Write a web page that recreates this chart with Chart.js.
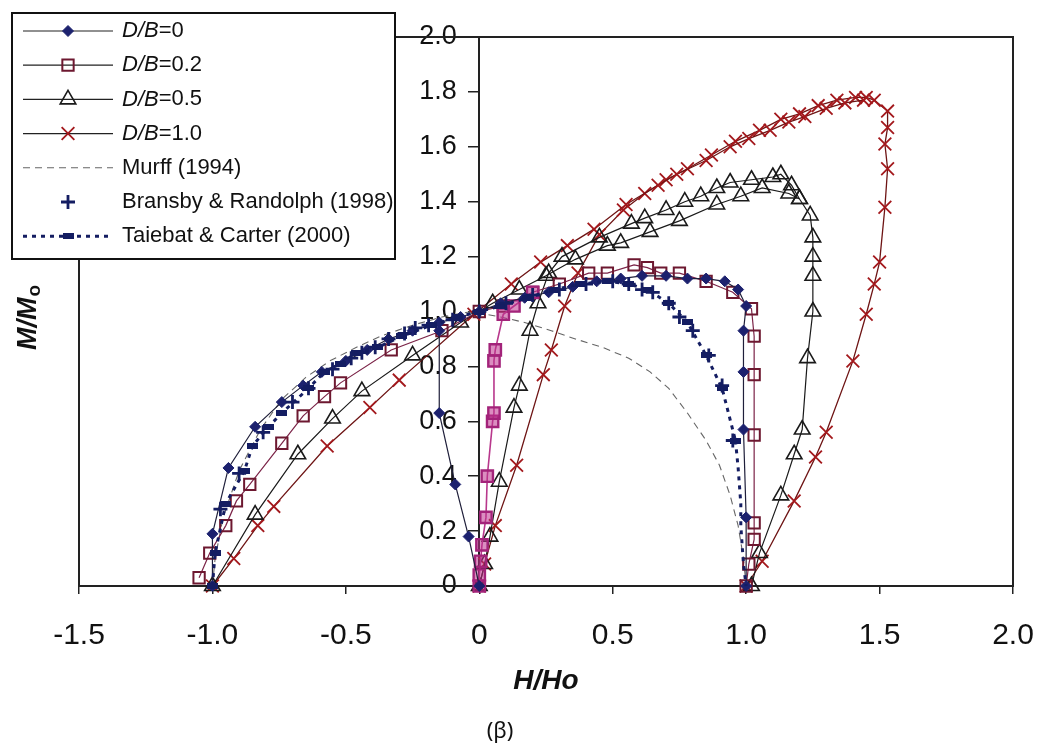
<!DOCTYPE html>
<html>
<head>
<meta charset="utf-8">
<title>M/Mo - H/Ho</title>
<script src="https://cdn.jsdelivr.net/npm/chart.js@4.4.0/dist/chart.umd.min.js"></script>
<style>
  html, body { margin: 0; padding: 0; background: #fff; }
  #wrap { position: relative; width: 1044px; height: 750px; }
</style>
</head>
<body>
<div id="wrap"><canvas id="envelope" width="1044" height="750"></canvas></div>
<script>
// tick labels as printed
const xTickLabels = ["-1.5", "-1.0", "-0.5", "0", "0.5", "1.0", "1.5", "2.0"];
const yTickLabels = ["0", "0.2", "0.4", "0.6", "0.8", "1.0", "1.2", "1.4", "1.6", "1.8", "2.0"];

// [H/Ho, M/Mo] pairs
const db0Main = [[-1.00, 0.00], [-1.00, 0.19], [-0.94, 0.43], [-0.84, 0.58], [-0.74, 0.67], [-0.66, 0.73],
  [-0.59, 0.78], [-0.50, 0.82], [-0.42, 0.86], [-0.34, 0.90], [-0.25, 0.93], [-0.15, 0.96], [-0.07, 0.98],
  [0.00, 1.00], [0.08, 1.03], [0.17, 1.05], [0.26, 1.07], [0.35, 1.09], [0.44, 1.11], [0.53, 1.12],
  [0.61, 1.13], [0.70, 1.13], [0.78, 1.12], [0.85, 1.12], [0.92, 1.11], [0.97, 1.08], [1.00, 1.02],
  [0.99, 0.93], [0.99, 0.78], [0.99, 0.57], [1.00, 0.25], [1.00, 0.00]];
const db0Swipe = [[0.00, 0.00], [-0.04, 0.18], [-0.09, 0.37], [-0.15, 0.63], [-0.15, 0.93]];

const db02Main = [[-1.05, 0.03], [-1.01, 0.12], [-0.95, 0.22], [-0.91, 0.31], [-0.86, 0.37], [-0.74, 0.52],
  [-0.66, 0.62], [-0.58, 0.69], [-0.52, 0.74], [-0.33, 0.86], [-0.14, 0.93], [0.00, 1.00], [0.09, 1.02],
  [0.20, 1.07], [0.30, 1.10], [0.41, 1.14], [0.48, 1.14], [0.58, 1.17], [0.63, 1.16], [0.68, 1.14],
  [0.75, 1.14], [0.85, 1.11], [0.95, 1.07], [1.02, 1.01], [1.03, 0.91], [1.03, 0.77], [1.03, 0.55],
  [1.03, 0.23], [1.03, 0.17], [1.01, 0.08], [1.00, 0.00]];
const db02Swipe = [[0.00, 0.00], [0.00, 0.04], [0.005, 0.09], [0.01, 0.15], [0.025, 0.25], [0.03, 0.40],
  [0.05, 0.60], [0.055, 0.63], [0.055, 0.82], [0.06, 0.86], [0.09, 0.99], [0.13, 1.02], [0.20, 1.07]];

const db05Main = [[-1.00, 0.00], [-0.84, 0.26], [-0.68, 0.48], [-0.55, 0.61], [-0.44, 0.71], [-0.25, 0.84],
  [-0.07, 0.96], [0.05, 1.03], [0.15, 1.08], [0.25, 1.13], [0.36, 1.19], [0.48, 1.24], [0.53, 1.25],
  [0.64, 1.29], [0.75, 1.33], [0.89, 1.39], [0.98, 1.42], [1.06, 1.45], [1.16, 1.43], [1.20, 1.41]];
const db05Swipe = [[0.00, 0.00], [0.02, 0.08], [0.04, 0.18], [0.075, 0.38], [0.13, 0.65], [0.15, 0.73],
  [0.19, 0.93], [0.22, 1.03], [0.26, 1.14], [0.31, 1.20], [0.45, 1.27], [0.57, 1.32], [0.62, 1.34],
  [0.70, 1.37], [0.77, 1.40], [0.83, 1.42], [0.89, 1.45], [0.94, 1.47], [1.02, 1.48], [1.10, 1.49],
  [1.13, 1.50], [1.17, 1.46], [1.20, 1.41], [1.24, 1.35], [1.25, 1.27], [1.25, 1.20], [1.25, 1.13],
  [1.25, 1.00], [1.23, 0.83], [1.21, 0.57], [1.18, 0.48], [1.13, 0.33], [1.05, 0.12], [1.02, 0.00]];

const db10Main = [[-1.00, 0.00], [-0.92, 0.10], [-0.83, 0.22], [-0.77, 0.29], [-0.57, 0.51], [-0.41, 0.65],
  [-0.30, 0.75], [-0.02, 0.99], [0.12, 1.10], [0.23, 1.18], [0.33, 1.24], [0.43, 1.30], [0.55, 1.39],
  [0.67, 1.46], [0.74, 1.50], [0.85, 1.55], [0.94, 1.60], [1.01, 1.63], [1.09, 1.66], [1.16, 1.69],
  [1.22, 1.71], [1.30, 1.74], [1.37, 1.76], [1.44, 1.77]];
const db10Swipe = [[0.00, 0.00], [0.02, 0.08], [0.06, 0.22], [0.14, 0.44], [0.24, 0.77], [0.27, 0.86],
  [0.32, 1.02], [0.37, 1.14], [0.45, 1.28], [0.54, 1.37], [0.62, 1.43], [0.70, 1.48], [0.78, 1.52],
  [0.87, 1.57], [0.96, 1.62], [1.05, 1.66], [1.13, 1.70], [1.20, 1.72], [1.27, 1.75], [1.34, 1.77],
  [1.41, 1.78], [1.45, 1.78], [1.48, 1.77], [1.53, 1.73], [1.53, 1.67], [1.52, 1.61], [1.53, 1.52],
  [1.52, 1.38], [1.50, 1.18], [1.48, 1.10], [1.45, 0.99], [1.40, 0.82], [1.30, 0.56], [1.26, 0.47],
  [1.18, 0.31], [1.06, 0.09], [1.00, 0.00]];

const murff = [[-1.00, 0.00], [-0.99, 0.10], [-0.96, 0.25], [-0.90, 0.42], [-0.82, 0.57], [-0.74, 0.68],
  [-0.65, 0.76], [-0.56, 0.82], [-0.46, 0.87], [-0.37, 0.91], [-0.25, 0.95], [-0.14, 0.98], [-0.03, 1.00],
  [0.08, 0.98], [0.17, 0.96], [0.27, 0.93], [0.36, 0.90], [0.46, 0.87], [0.56, 0.83], [0.64, 0.78],
  [0.71, 0.72], [0.78, 0.63], [0.85, 0.53], [0.90, 0.44], [0.94, 0.33], [0.97, 0.22], [0.99, 0.10],
  [1.00, 0.00]];

const bransby = [[-0.97, 0.28], [-0.90, 0.41], [-0.81, 0.56], [-0.70, 0.67], [-0.64, 0.72], [-0.55, 0.79],
  [-0.48, 0.83], [-0.44, 0.85], [-0.39, 0.87], [-0.34, 0.90], [-0.28, 0.92], [-0.24, 0.94], [-0.19, 0.95],
  [-0.10, 0.97], [0.00, 1.00], [0.10, 1.03], [0.20, 1.06], [0.30, 1.08], [0.40, 1.10], [0.50, 1.11],
  [0.56, 1.10], [0.61, 1.08], [0.65, 1.07], [0.71, 1.03], [0.75, 0.98], [0.80, 0.93], [0.86, 0.84],
  [0.91, 0.73], [0.95, 0.53]];

const taiebat = [[-1.00, 0.00], [-0.99, 0.12], [-0.95, 0.30], [-0.88, 0.42], [-0.85, 0.51], [-0.79, 0.58],
  [-0.74, 0.63], [-0.64, 0.72], [-0.58, 0.78], [-0.52, 0.81], [-0.46, 0.85], [-0.38, 0.87], [-0.29, 0.91],
  [-0.18, 0.95], [-0.08, 0.98], [0.00, 1.00], [0.08, 1.02], [0.18, 1.05], [0.28, 1.08], [0.38, 1.10],
  [0.48, 1.11], [0.56, 1.10], [0.63, 1.08], [0.71, 1.03], [0.78, 0.96], [0.85, 0.84], [0.91, 0.72],
  [0.96, 0.53]];
const taiebatTail = [[0.96, 0.53], [0.97, 0.43], [0.98, 0.30], [0.98, 0.22], [0.99, 0.08], [1.00, 0.00]];

const FONT = '"Liberation Sans", Arial, sans-serif';
const NAVY = '#141d62';

// small bar used as the Taiebat & Carter marker
const barMark = document.createElement('canvas');
barMark.width = 11;
barMark.height = 6;
const bctx = barMark.getContext('2d');
bctx.fillStyle = NAVY;
bctx.fillRect(0, 0, 11, 6);

const styles = {
  db0: { line: '#1f1f3a', lw: 1.2, shape: 'rectRot', r: 5.5, mark: '#1c216e', fill: '#1c216e', bw: 1 },
  db02: { line: '#7b2347', lw: 1.2, shape: 'rect', r: 8, mark: '#6d1830', fill: 'rgba(0,0,0,0)', bw: 2 },
  db02s: { line: '#b8388c', lw: 1.6, shape: 'rect', r: 8, mark: '#a3237a', fill: 'rgba(190,50,140,0.55)', bw: 2.4 },
  db05: { line: '#1a1a1a', lw: 1.2, shape: 'triangle', r: 9, mark: '#1a1a1a', fill: 'rgba(0,0,0,0)', bw: 1.6 },
  db10: { line: '#6e1414', lw: 1.3, shape: 'crossRot', r: 9, mark: '#a3181c', fill: 'rgba(0,0,0,0)', bw: 1.8 },
  murff: { line: '#666', lw: 1.1, dash: [7, 5], shape: 'circle', r: 0, mark: '#666', fill: '#666', bw: 0 },
  bransby: { line: NAVY, lw: 0, shape: 'cross', r: 7, mark: NAVY, fill: NAVY, bw: 2.8 },
  taiebat: { line: NAVY, lw: 3, dash: [4, 5], shape: barMark, r: 5, mark: NAVY, fill: NAVY, bw: 0 }
};

function series(points, s, extra) {
  return Object.assign({
    data: points.map(([x, y]) => ({ x, y })),
    showLine: true,
    borderColor: s.line,
    borderWidth: s.lw,
    borderDash: s.dash || [],
    pointStyle: s.shape,
    pointRadius: s.r,
    pointBorderColor: s.mark,
    pointBackgroundColor: s.fill,
    pointBorderWidth: s.bw,
    clip: false
  }, extra || {});
}

const legendRows = [
  { s: styles.db0, line: true, point: true, text: [["D/B", "italic"], ["=0", ""]] },
  { s: styles.db02, line: true, point: true, text: [["D/B", "italic"], ["=0.2", ""]] },
  { s: styles.db05, line: true, point: true, text: [["D/B", "italic"], ["=0.5", ""]] },
  { s: styles.db10, line: true, point: true, text: [["D/B", "italic"], ["=1.0", ""]] },
  { s: styles.murff, line: true, point: false, text: [["Murff (1994)", ""]] },
  { s: styles.bransby, line: false, point: true, text: [["Bransby & Randolph (1998)", ""]] },
  { s: styles.taiebat, line: true, point: true, text: [["Taiebat & Carter (2000)", ""]] }
];

const decorations = {
  id: 'decorations',
  beforeDatasetsDraw(chart) {
    const { ctx, chartArea: a } = chart;
    ctx.save();
    ctx.strokeStyle = '#222';
    ctx.lineWidth = 2;
    ctx.strokeRect(a.left, a.top, a.right - a.left, a.bottom - a.top);
    ctx.restore();
  },
  afterDraw(chart) {
    const ctx = chart.ctx;
    ctx.save();
    // legend box
    ctx.fillStyle = '#fff';
    ctx.fillRect(12, 13, 383, 246);
    ctx.strokeStyle = '#111';
    ctx.lineWidth = 2;
    ctx.strokeRect(12, 13, 383, 246);
    legendRows.forEach((row, i) => {
      const y = 31 + i * 34.2;
      const s = row.s;
      if (row.line) {
        ctx.save();
        ctx.strokeStyle = s.dash ? s.line : '#222';
        ctx.lineWidth = s.dash ? s.lw : 1.2;
        ctx.setLineDash(s.dash || []);
        ctx.beginPath();
        ctx.moveTo(23, y);
        ctx.lineTo(113, y);
        ctx.stroke();
        ctx.restore();
      }
      if (row.point) {
        ctx.save();
        ctx.fillStyle = s.fill;
        ctx.strokeStyle = s.mark;
        ctx.lineWidth = s.bw;
        Chart.helpers.drawPoint(ctx, { pointStyle: s.shape, radius: s.r, rotation: 0, borderWidth: s.bw }, 68, y);
        ctx.restore();
      }
      let tx = 122;
      ctx.fillStyle = '#111';
      ctx.textBaseline = 'middle';
      ctx.textAlign = 'left';
      row.text.forEach(([t, st]) => {
        ctx.font = st + ' 22px ' + FONT;
        ctx.fillText(t, tx, y);
        tx += ctx.measureText(t).width;
      });
    });

    // y axis title M/Mo, rotated
    ctx.save();
    ctx.translate(29, 318);
    ctx.rotate(-Math.PI / 2);
    ctx.fillStyle = '#111';
    ctx.textBaseline = 'middle';
    ctx.textAlign = 'left';
    ctx.font = 'italic bold 27px ' + FONT;
    const w1 = ctx.measureText('M/M').width;
    ctx.font = 'bold 19px ' + FONT;
    const w2 = ctx.measureText('o').width;
    const x0 = -(w1 + w2) / 2;
    ctx.font = 'italic bold 27px ' + FONT;
    ctx.fillText('M/M', x0, 0);
    ctx.font = 'bold 19px ' + FONT;
    ctx.fillText('o', x0 + w1 + 1, 6);
    ctx.restore();

    // caption
    ctx.fillStyle = '#111';
    ctx.textAlign = 'center';
    ctx.textBaseline = 'middle';
    ctx.font = '22px "Noto Sans", ' + FONT;
    ctx.fillText('(\u03b2)', 500, 732);
    ctx.restore();
  }
};

new Chart(document.getElementById('envelope'), {
  type: 'scatter',
  data: {
    datasets: [
      series(bransby, styles.bransby, { showLine: false }),
      series(taiebat, styles.taiebat),
      series(taiebatTail, styles.taiebat, { pointRadius: 0 }),
      series(db0Main, styles.db0),
      series(db0Swipe, styles.db0),
      series(db02Swipe, styles.db02s),
      series(db02Main, styles.db02),
      series(db05Main, styles.db05),
      series(db05Swipe, styles.db05),
      series(db10Main, styles.db10),
      series(db10Swipe, styles.db10),
      series(murff, styles.murff)
    ]
  },
  options: {
    responsive: false,
    animation: false,
    devicePixelRatio: 1,
    layout: { padding: { left: 79, right: 31, top: 37, bottom: 0 } },
    plugins: { legend: { display: false }, tooltip: { enabled: false } },
    scales: {
      x: {
        type: 'linear',
        min: -1.5,
        max: 2.0,
        afterFit: (scale) => { scale.height = 164; },
        ticks: {
          stepSize: 0.5,
          padding: 0,
          color: '#111',
          font: { family: '"Liberation Sans Narrow", "Liberation Sans", Arial, sans-serif', size: 30, lineHeight: 2.8 },
          callback: (v, i) => xTickLabels[i]
        },
        grid: { display: true, drawOnChartArea: false, drawTicks: true, tickLength: 8, color: '#222', lineWidth: 1.5 },
        border: { display: true, color: '#222', width: 2 },
        title: {
          display: true,
          text: 'H/Ho',
          color: '#111',
          font: { family: FONT, size: 28, style: 'italic', weight: 'bold' },
          padding: { top: 0, bottom: 52 }
        }
      },
      y: {
        type: 'linear',
        position: { x: 0 },
        min: 0,
        max: 2.0,
        ticks: {
          stepSize: 0.2,
          color: '#111',
          font: { family: FONT, size: 27 },
          callback: (v, i) => yTickLabels[i] + '   '
        },
        grid: { display: true, drawOnChartArea: false, drawTicks: true, tickLength: 10, color: '#222', lineWidth: 1.5 },
        border: { display: true, color: '#222', width: 2 }
      }
    }
  },
  plugins: [decorations]
});
</script>
</body>
</html>
